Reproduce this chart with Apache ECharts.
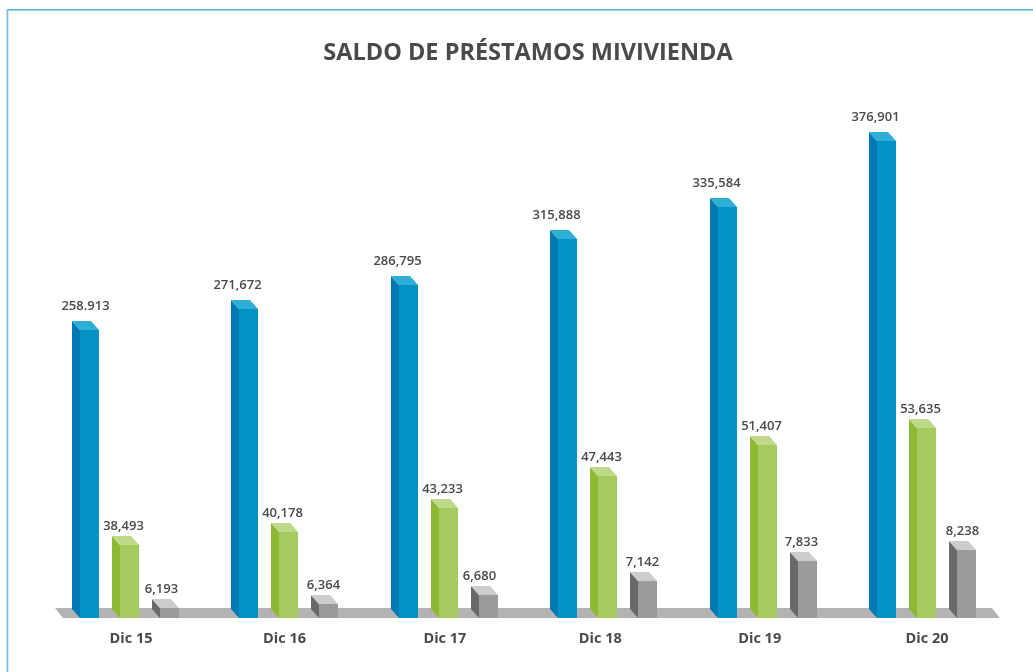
<!DOCTYPE html>
<html><head><meta charset="utf-8">
<style>html,body{margin:0;padding:0;background:#fff}#c{width:1033px;height:672px}</style>
<script src="https://cdn.jsdelivr.net/npm/echarts@6/dist/echarts.min.js"></script>
</head><body><div id="c"></div>
<script>
var categories = ['Dic 15','Dic 16','Dic 17','Dic 18','Dic 19','Dic 20'];
var prestamosA = [258913,271672,286795,315888,335584,376901];
var prestamosB = [38493,40178,43233,47443,51407,53635];
var prestamosC = [6193,6364,6680,7142,7833,8238];
var labelsA = ['258.913','271,672','286,795','315,888','335,584','376,901'];
var labelsB = ['38,493','40,178','43,233','47,443','51,407','53,635'];
var labelsC = ['6,193','6,364','6,680','7,142','7,833','8,238'];

// layout
var FONT = '"Open Sans", sans-serif';
var TEXT = '#4a4a4a';
var SIDE = 8, DEPTH = 9, FRONT = 19;
var catNudge = [1,-5,-4,-8,-8,0];
var styles = [
  {x:-58, front:'#0093c4', side:'#0079b4', top:'#2fafd6', gap:15, nudge:[0,-7,-7,-7,-7,-7]},
  {x:-18, front:'#a5cb5e', side:'#8dba32', top:'#bed98a', gap:10, nudge:[-2,-2,-2,-2,-2,-2]},
  {x:22,  front:'#9b9b9b', side:'#696969', top:'#cccccc', gap:10, nudge:[-4,-1,-5,-1,-2,0]}
];

function bars(values, labels, s, axisIndex){
  return {
    type:'custom', coordinateSystem:'cartesian2d', xAxisIndex:0, yAxisIndex:axisIndex, z:3,
    data: values.map(function(v,i){return [i,v];}),
    encode:{x:0,y:1},
    renderItem:function(params,api){
      var i = api.value(0);
      var p = api.coord([i, api.value(1)]);
      var bottom = params.coordSys.y + params.coordSys.height;
      var x0 = Math.round(p[0] + s.x), x1 = x0 + SIDE, x2 = x1 + FRONT, y = Math.round(p[1]);
      return {type:'group', children:[
        {type:'polygon', shape:{points:[[x0,y-DEPTH],[x1,y],[x1,bottom],[x0,bottom-DEPTH]]}, style:{fill:s.side}},
        {type:'polygon', shape:{points:[[x0,y-DEPTH],[x2-SIDE,y-DEPTH],[x2,y],[x1,y]]}, style:{fill:s.top}},
        {type:'rect', shape:{x:x1,y:y,width:FRONT,height:bottom-y}, style:{fill:s.front}},
        {type:'text', x:(x0+x2)/2 + s.nudge[i], y:y-DEPTH-s.gap,
          style:{text:labels[i], fill:TEXT, font:'600 13px '+FONT, textAlign:'center', textVerticalAlign:'middle'}}
      ]};
    }
  };
}

var rich = {};
catNudge.forEach(function(n,i){
  rich['c'+i] = {fontFamily:FONT, fontWeight:700, fontSize:14.5, color:TEXT,
    padding: n<0 ? [0,-2*n,0,0] : [0,0,0,2*n]};
});

var chart = echarts.init(document.getElementById('c'));
chart.setOption({
  animation:false,
  backgroundColor:'#fff',
  title:{text:'SALDO DE PRÉSTAMOS MIVIVIENDA', left:523, top:36.5, textAlign:'center',
    textStyle:{fontFamily:FONT, fontWeight:700, fontSize:23.5, color:TEXT}},
  grid:{left:50.4, width:956.4, top:18, height:600},
  xAxis:{type:'category', data:categories, axisLine:{show:false}, axisTick:{show:false},
    axisLabel:{margin:13, interval:0, formatter:function(v,i){return '{c'+i+'|'+v+'}';}, rich:rich}},
  yAxis:[
    {type:'value', show:false, min:78646, max:454021, splitLine:{show:false}},
    {type:'value', show:false, min:29058, max:106728, splitLine:{show:false}},
    {type:'value', show:false, min:5862, max:26753, splitLine:{show:false}}
  ],
  graphic:[
    {type:'rect', shape:{x:7,y:9,width:1026,height:1.5}, style:{fill:'#58abd6'}, silent:true},
    {type:'rect', shape:{x:6.5,y:9,width:1.8,height:663}, style:{fill:'#7fbde0'}, silent:true},
    {type:'polygon', z:-1, shape:{points:[[55,608],[992,608],[1000,618],[63,618]]}, style:{fill:'#b3b3b3'}, silent:true}
  ],
  series:[
    bars(prestamosA, labelsA, styles[0], 0),
    bars(prestamosB, labelsB, styles[1], 1),
    bars(prestamosC, labelsC, styles[2], 2)
  ]
});
</script></body></html>
